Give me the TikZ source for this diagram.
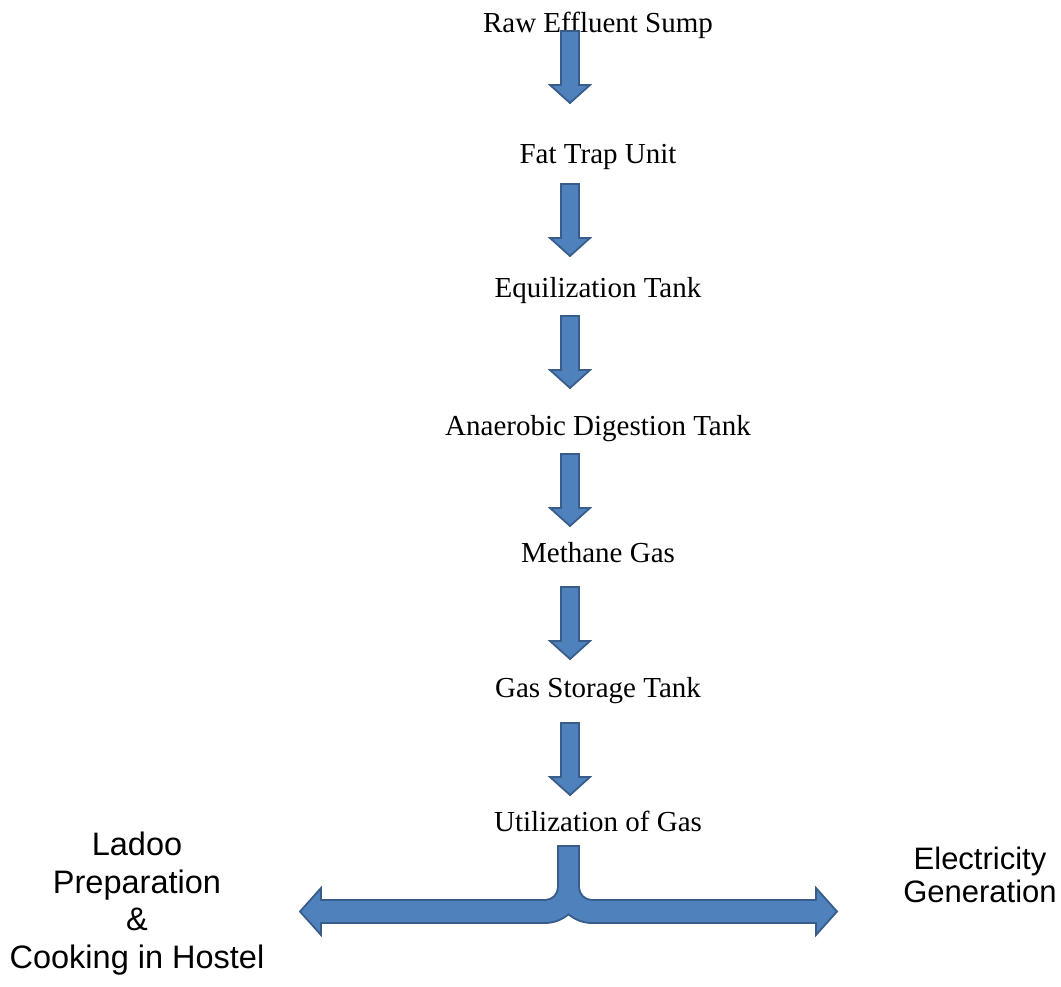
\documentclass[tikz,border=0pt]{standalone}
\usepackage{fontspec}
\setmainfont{Liberation Serif}
\newfontfamily\labelfont{Liberation Sans}
\definecolor{arrowfill}{RGB}{79,129,189}
\definecolor{arrowline}{RGB}{56,93,138}
\tikzset{
  stage/.style={anchor=base, inner sep=0pt, font=\fontsize{29}{34}\selectfont},
  enduse/.style={anchor=base, inner sep=0pt, align=center},
  blockarrow/.style={fill=arrowfill, draw=arrowline, line width=1.8pt, line join=miter},
  pics/downarrow/.style={code={
    \draw[blockarrow] (-9,-1) -- (-9,-55) -- (-20,-55) -- (0,-73) -- (20,-55)
      -- (9,-55) -- (9,-1) -- cycle;
  }}
}
\begin{document}
\begin{tikzpicture}[x=1pt,y=1pt]
\useasboundingbox (0,0) rectangle (1061,-986);

% process stages
\node[stage] (raw)   at (598,-32)    {Raw Effluent Sump};
\node[stage] (fat)   at (598,-163.5) {Fat Trap Unit};
\node[stage] (eq)    at (598,-297)   {Equilization Tank};
\node[stage] (ad)    at (598,-435)   {Anaerobic Digestion Tank};
\node[stage] (meth)  at (598,-562)   {Methane Gas};
\node[stage] (store) at (598,-697)   {Gas Storage Tank};
\node[stage] (use)   at (598,-831)   {Utilization of Gas};

% end uses (the base anchor sits on the last line)
\node[enduse, font=\labelfont\fontsize{32.5}{37.5}\selectfont] (ladoo) at (137,-968)
  {Ladoo\\Preparation\\\&\\Cooking in Hostel};
\node[enduse, font=\labelfont\fontsize{31}{33}\selectfont] (elec) at (980,-902)
  {Electricity\\Generation};

% tops of the block arrows between stages
\coordinate (a1) at (570,-30);
\coordinate (a2) at (570,-183);
\coordinate (a3) at (570,-315);
\coordinate (a4) at (570,-453);
\coordinate (a5) at (570,-586);
\coordinate (a6) at (570,-722);
\foreach \c in {a1,a2,a3,a4,a5,a6}
  \pic at (\c) {downarrow};

% split arrow from the gas utilization stage to both end uses
\draw[blockarrow]
  (558,-846) -- (558,-887) arc[start angle=0, end angle=-90, radius=13]
  -- (321,-900) -- (321,-888) -- (300,-911.5) -- (321,-935) -- (321,-923)
  -- (545,-923) arc[start angle=-90, end angle=-49.2, radius=36]
  arc[start angle=-130.8, end angle=-90, radius=36]
  -- (816,-923) -- (816,-935) -- (837,-911.5) -- (816,-888) -- (816,-900)
  -- (592,-900) arc[start angle=-90, end angle=-180, radius=13]
  -- (579,-846) -- cycle;
\end{tikzpicture}
\end{document}
